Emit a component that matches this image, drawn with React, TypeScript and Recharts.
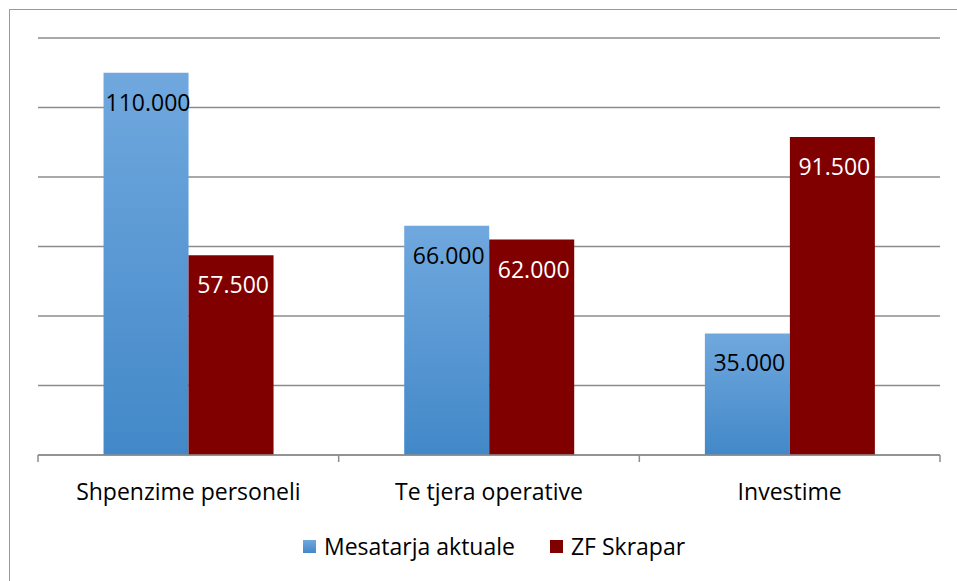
import React from "react";
import { BarChart, Bar, XAxis, YAxis, CartesianGrid, LabelList } from "recharts";

const categories = ["Shpenzime personeli", "Te tjera operative", "Investime"];
const mesatarja = [110000, 66000, 35000];
const skrapar = [57500, 62000, 91500];
const yTicks = [0, 20000, 40000, 60000, 80000, 100000, 120000];

const W = 957;
const H = 581;
const AXIS_H = 30;
const M = { top: 38, right: 17, bottom: 96, left: 38 };
const PLOT_BOTTOM = H - M.bottom - AXIS_H;
const BAND = (W - M.left - M.right) / categories.length;
const FONT = "'Open Sans', 'Noto Sans', sans-serif";
const FS = 23;

const rows = categories.map((name, i) => ({
  name,
  mesatarja: mesatarja[i],
  skrapar: skrapar[i],
}));

function fmt(v: number) {
  return String(v).replace(/\B(?=(\d{3})+(?!\d))/g, ".");
}

function barLabel(color: string) {
  return (props: any) => {
    const { x, y, width, value } = props;
    return (
      <text
        x={x + width / 2 + 2}
        y={y + 29}
        textAnchor="middle"
        dominantBaseline="central"
        fill={color}
        fontSize={FS}
        fontFamily={FONT}
      >
        {fmt(value)}
      </text>
    );
  };
}

function CatTick(props: any) {
  const { x, payload, index } = props;
  const left = x - BAND / 2;
  return (
    <g>
      <line x1={left} x2={left} y1={PLOT_BOTTOM} y2={PLOT_BOTTOM + 7} stroke="#8c8c8c" strokeWidth={1.5} />
      {index === categories.length - 1 && (
        <line x1={left + BAND} x2={left + BAND} y1={PLOT_BOTTOM} y2={PLOT_BOTTOM + 7} stroke="#8c8c8c" strokeWidth={1.5} />
      )}
      <text
        x={x}
        y={PLOT_BOTTOM + 36}
        textAnchor="middle"
        dominantBaseline="central"
        fill="#000"
        fontSize={FS}
        fontFamily={FONT}
      >
        {payload.value}
      </text>
    </g>
  );
}

function LegendBox() {
  const item = (bg: string, label: string, ml: number) => (
    <span style={{ display: "inline-flex", alignItems: "center", marginLeft: ml }}>
      <span style={{ width: 13, height: 13, background: bg, display: "inline-block", marginRight: 8 }} />
      <span>{label}</span>
    </span>
  );
  return (
    <div
      style={{
        position: "absolute",
        left: 303,
        top: 530,
        height: 32,
        display: "flex",
        alignItems: "center",
        fontFamily: FONT,
        fontSize: FS,
        color: "#000",
        whiteSpace: "nowrap",
      }}
    >
      {item("linear-gradient(#70a8de, #4288c8)", "Mesatarja aktuale", 0)}
      {item("#800000", "ZF Skrapar", 35)}
    </div>
  );
}

export default function App() {
  return (
    <div style={{ position: "fixed", left: 0, top: 0, width: W, height: H, background: "#fff" }}>
      <div
        style={{
          position: "fixed",
          left: 9,
          top: 9,
          width: 1000,
          height: 700,
          border: "1.5px solid #9a9a9a",
          pointerEvents: "none",
        }}
      />
      <BarChart
        width={W}
        height={H}
        data={rows}
        margin={M}
        barCategoryGap="21.8%"
        barGap={0}
      >
        <defs>
          <linearGradient id="blueGrad" x1="0" y1="0" x2="0" y2="1">
            <stop offset="0%" stopColor="#70a8de" />
            <stop offset="100%" stopColor="#4288c8" />
          </linearGradient>
        </defs>
        <CartesianGrid vertical={false} stroke="#8c8c8c" strokeWidth={1.3} />
        <YAxis hide domain={[0, 120000]} ticks={yTicks} />
        <XAxis
          dataKey="name"
          height={AXIS_H}
          axisLine={{ stroke: "#8c8c8c", strokeWidth: 1.5 }}
          tickLine={false}
          tick={<CatTick />}
          interval={0}
        />
        <Bar dataKey="mesatarja" fill="url(#blueGrad)" isAnimationActive={false}>
          <LabelList dataKey="mesatarja" content={barLabel("#000")} />
        </Bar>
        <Bar dataKey="skrapar" fill="#800000" isAnimationActive={false}>
          <LabelList dataKey="skrapar" content={barLabel("#fff")} />
        </Bar>
      </BarChart>
      <LegendBox />
    </div>
  );
}
